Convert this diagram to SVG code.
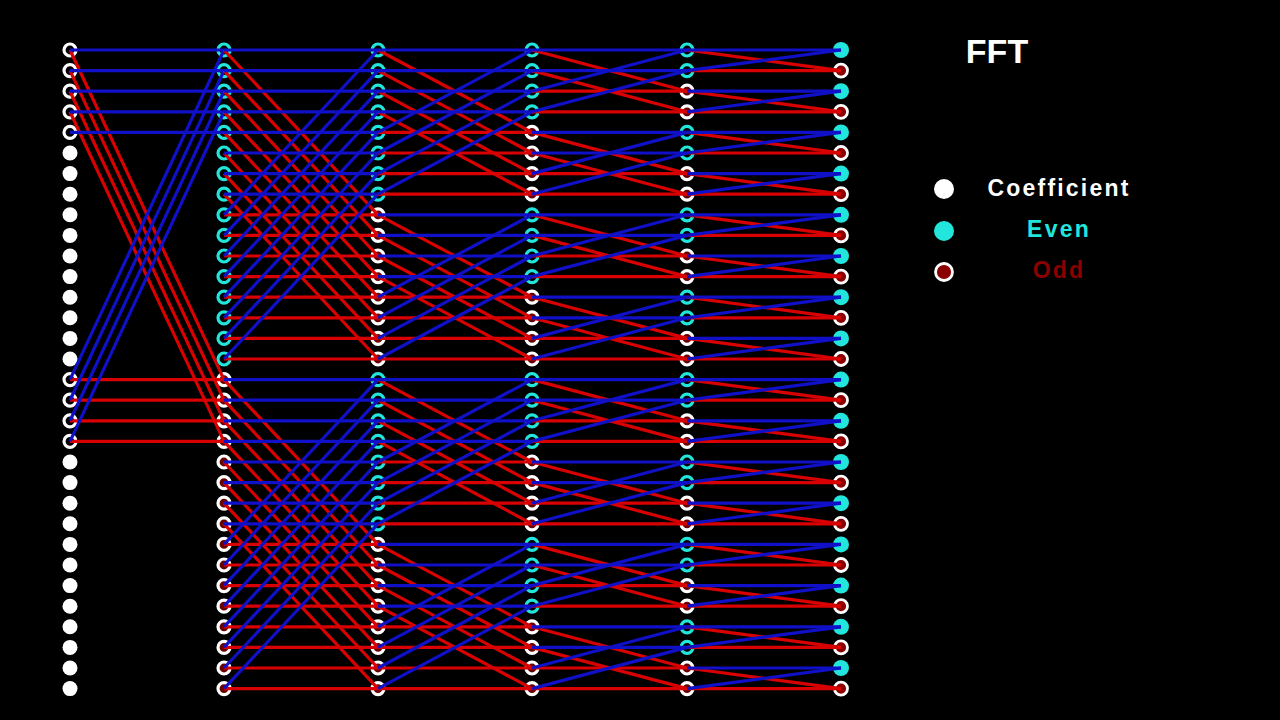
<svg xmlns="http://www.w3.org/2000/svg" width="1280" height="720" viewBox="0 0 1280 720">
<style>
.c{fill:#fff}
.ca{fill:#000;stroke:#fff;stroke-width:3.2}
.e{fill:#000;stroke:#22e6dc;stroke-width:3.2}
.o{fill:#6a0000;stroke:#fff;stroke-width:3.2}
.ef{fill:#22e6dc}
.of{fill:#8b0000;stroke:#fff;stroke-width:2.8}
.b{stroke:#1010c8;stroke-width:3.2;fill:none}
.r{stroke:#d80000;stroke-width:3.2;fill:none}
.t{font-family:"Liberation Sans",Arial,sans-serif;font-weight:bold}
</style>
<rect width="1280" height="720" fill="#000"/>
<g id="nodes">
<g id="n0-0"><circle class="ca" cx="70" cy="50" r="6"/></g>
<g id="n0-1"><circle class="ca" cx="70" cy="70.6" r="6"/></g>
<g id="n0-2"><circle class="ca" cx="70" cy="91.2" r="6"/></g>
<g id="n0-3"><circle class="ca" cx="70" cy="111.8" r="6"/></g>
<g id="n0-4"><circle class="ca" cx="70" cy="132.4" r="6"/></g>
<g id="n0-5"><circle class="c" cx="70" cy="153" r="7.5"/></g>
<g id="n0-6"><circle class="c" cx="70" cy="173.6" r="7.5"/></g>
<g id="n0-7"><circle class="c" cx="70" cy="194.2" r="7.5"/></g>
<g id="n0-8"><circle class="c" cx="70" cy="214.8" r="7.5"/></g>
<g id="n0-9"><circle class="c" cx="70" cy="235.4" r="7.5"/></g>
<g id="n0-10"><circle class="c" cx="70" cy="256" r="7.5"/></g>
<g id="n0-11"><circle class="c" cx="70" cy="276.6" r="7.5"/></g>
<g id="n0-12"><circle class="c" cx="70" cy="297.2" r="7.5"/></g>
<g id="n0-13"><circle class="c" cx="70" cy="317.8" r="7.5"/></g>
<g id="n0-14"><circle class="c" cx="70" cy="338.4" r="7.5"/></g>
<g id="n0-15"><circle class="c" cx="70" cy="359" r="7.5"/></g>
<g id="n0-16"><circle class="ca" cx="70" cy="379.6" r="6"/></g>
<g id="n0-17"><circle class="ca" cx="70" cy="400.2" r="6"/></g>
<g id="n0-18"><circle class="ca" cx="70" cy="420.8" r="6"/></g>
<g id="n0-19"><circle class="ca" cx="70" cy="441.4" r="6"/></g>
<g id="n0-20"><circle class="c" cx="70" cy="462" r="7.5"/></g>
<g id="n0-21"><circle class="c" cx="70" cy="482.6" r="7.5"/></g>
<g id="n0-22"><circle class="c" cx="70" cy="503.2" r="7.5"/></g>
<g id="n0-23"><circle class="c" cx="70" cy="523.8" r="7.5"/></g>
<g id="n0-24"><circle class="c" cx="70" cy="544.4" r="7.5"/></g>
<g id="n0-25"><circle class="c" cx="70" cy="565" r="7.5"/></g>
<g id="n0-26"><circle class="c" cx="70" cy="585.6" r="7.5"/></g>
<g id="n0-27"><circle class="c" cx="70" cy="606.2" r="7.5"/></g>
<g id="n0-28"><circle class="c" cx="70" cy="626.8" r="7.5"/></g>
<g id="n0-29"><circle class="c" cx="70" cy="647.4" r="7.5"/></g>
<g id="n0-30"><circle class="c" cx="70" cy="668" r="7.5"/></g>
<g id="n0-31"><circle class="c" cx="70" cy="688.6" r="7.5"/></g>

<g id="n1-0"><circle class="e" cx="224" cy="50" r="6"/></g>
<g id="n1-1"><circle class="e" cx="224" cy="70.6" r="6"/></g>
<g id="n1-2"><circle class="e" cx="224" cy="91.2" r="6"/></g>
<g id="n1-3"><circle class="e" cx="224" cy="111.8" r="6"/></g>
<g id="n1-4"><circle class="e" cx="224" cy="132.4" r="6"/></g>
<g id="n1-5"><circle class="e" cx="224" cy="153" r="6"/></g>
<g id="n1-6"><circle class="e" cx="224" cy="173.6" r="6"/></g>
<g id="n1-7"><circle class="e" cx="224" cy="194.2" r="6"/></g>
<g id="n1-8"><circle class="e" cx="224" cy="214.8" r="6"/></g>
<g id="n1-9"><circle class="e" cx="224" cy="235.4" r="6"/></g>
<g id="n1-10"><circle class="e" cx="224" cy="256" r="6"/></g>
<g id="n1-11"><circle class="e" cx="224" cy="276.6" r="6"/></g>
<g id="n1-12"><circle class="e" cx="224" cy="297.2" r="6"/></g>
<g id="n1-13"><circle class="e" cx="224" cy="317.8" r="6"/></g>
<g id="n1-14"><circle class="e" cx="224" cy="338.4" r="6"/></g>
<g id="n1-15"><circle class="e" cx="224" cy="359" r="6"/></g>
<g id="n1-16"><circle class="o" cx="224" cy="379.6" r="6"/></g>
<g id="n1-17"><circle class="o" cx="224" cy="400.2" r="6"/></g>
<g id="n1-18"><circle class="o" cx="224" cy="420.8" r="6"/></g>
<g id="n1-19"><circle class="o" cx="224" cy="441.4" r="6"/></g>
<g id="n1-20"><circle class="o" cx="224" cy="462" r="6"/></g>
<g id="n1-21"><circle class="o" cx="224" cy="482.6" r="6"/></g>
<g id="n1-22"><circle class="o" cx="224" cy="503.2" r="6"/></g>
<g id="n1-23"><circle class="o" cx="224" cy="523.8" r="6"/></g>
<g id="n1-24"><circle class="o" cx="224" cy="544.4" r="6"/></g>
<g id="n1-25"><circle class="o" cx="224" cy="565" r="6"/></g>
<g id="n1-26"><circle class="o" cx="224" cy="585.6" r="6"/></g>
<g id="n1-27"><circle class="o" cx="224" cy="606.2" r="6"/></g>
<g id="n1-28"><circle class="o" cx="224" cy="626.8" r="6"/></g>
<g id="n1-29"><circle class="o" cx="224" cy="647.4" r="6"/></g>
<g id="n1-30"><circle class="o" cx="224" cy="668" r="6"/></g>
<g id="n1-31"><circle class="o" cx="224" cy="688.6" r="6"/></g>

<g id="n2-0"><circle class="e" cx="378" cy="50" r="6"/></g>
<g id="n2-1"><circle class="e" cx="378" cy="70.6" r="6"/></g>
<g id="n2-2"><circle class="e" cx="378" cy="91.2" r="6"/></g>
<g id="n2-3"><circle class="e" cx="378" cy="111.8" r="6"/></g>
<g id="n2-4"><circle class="e" cx="378" cy="132.4" r="6"/></g>
<g id="n2-5"><circle class="e" cx="378" cy="153" r="6"/></g>
<g id="n2-6"><circle class="e" cx="378" cy="173.6" r="6"/></g>
<g id="n2-7"><circle class="e" cx="378" cy="194.2" r="6"/></g>
<g id="n2-8"><circle class="o" cx="378" cy="214.8" r="6"/></g>
<g id="n2-9"><circle class="o" cx="378" cy="235.4" r="6"/></g>
<g id="n2-10"><circle class="o" cx="378" cy="256" r="6"/></g>
<g id="n2-11"><circle class="o" cx="378" cy="276.6" r="6"/></g>
<g id="n2-12"><circle class="o" cx="378" cy="297.2" r="6"/></g>
<g id="n2-13"><circle class="o" cx="378" cy="317.8" r="6"/></g>
<g id="n2-14"><circle class="o" cx="378" cy="338.4" r="6"/></g>
<g id="n2-15"><circle class="o" cx="378" cy="359" r="6"/></g>
<g id="n2-16"><circle class="e" cx="378" cy="379.6" r="6"/></g>
<g id="n2-17"><circle class="e" cx="378" cy="400.2" r="6"/></g>
<g id="n2-18"><circle class="e" cx="378" cy="420.8" r="6"/></g>
<g id="n2-19"><circle class="e" cx="378" cy="441.4" r="6"/></g>
<g id="n2-20"><circle class="e" cx="378" cy="462" r="6"/></g>
<g id="n2-21"><circle class="e" cx="378" cy="482.6" r="6"/></g>
<g id="n2-22"><circle class="e" cx="378" cy="503.2" r="6"/></g>
<g id="n2-23"><circle class="e" cx="378" cy="523.8" r="6"/></g>
<g id="n2-24"><circle class="o" cx="378" cy="544.4" r="6"/></g>
<g id="n2-25"><circle class="o" cx="378" cy="565" r="6"/></g>
<g id="n2-26"><circle class="o" cx="378" cy="585.6" r="6"/></g>
<g id="n2-27"><circle class="o" cx="378" cy="606.2" r="6"/></g>
<g id="n2-28"><circle class="o" cx="378" cy="626.8" r="6"/></g>
<g id="n2-29"><circle class="o" cx="378" cy="647.4" r="6"/></g>
<g id="n2-30"><circle class="o" cx="378" cy="668" r="6"/></g>
<g id="n2-31"><circle class="o" cx="378" cy="688.6" r="6"/></g>

<g id="n3-0"><circle class="e" cx="532" cy="50" r="6"/></g>
<g id="n3-1"><circle class="e" cx="532" cy="70.6" r="6"/></g>
<g id="n3-2"><circle class="e" cx="532" cy="91.2" r="6"/></g>
<g id="n3-3"><circle class="e" cx="532" cy="111.8" r="6"/></g>
<g id="n3-4"><circle class="o" cx="532" cy="132.4" r="6"/></g>
<g id="n3-5"><circle class="o" cx="532" cy="153" r="6"/></g>
<g id="n3-6"><circle class="o" cx="532" cy="173.6" r="6"/></g>
<g id="n3-7"><circle class="o" cx="532" cy="194.2" r="6"/></g>
<g id="n3-8"><circle class="e" cx="532" cy="214.8" r="6"/></g>
<g id="n3-9"><circle class="e" cx="532" cy="235.4" r="6"/></g>
<g id="n3-10"><circle class="e" cx="532" cy="256" r="6"/></g>
<g id="n3-11"><circle class="e" cx="532" cy="276.6" r="6"/></g>
<g id="n3-12"><circle class="o" cx="532" cy="297.2" r="6"/></g>
<g id="n3-13"><circle class="o" cx="532" cy="317.8" r="6"/></g>
<g id="n3-14"><circle class="o" cx="532" cy="338.4" r="6"/></g>
<g id="n3-15"><circle class="o" cx="532" cy="359" r="6"/></g>
<g id="n3-16"><circle class="e" cx="532" cy="379.6" r="6"/></g>
<g id="n3-17"><circle class="e" cx="532" cy="400.2" r="6"/></g>
<g id="n3-18"><circle class="e" cx="532" cy="420.8" r="6"/></g>
<g id="n3-19"><circle class="e" cx="532" cy="441.4" r="6"/></g>
<g id="n3-20"><circle class="o" cx="532" cy="462" r="6"/></g>
<g id="n3-21"><circle class="o" cx="532" cy="482.6" r="6"/></g>
<g id="n3-22"><circle class="o" cx="532" cy="503.2" r="6"/></g>
<g id="n3-23"><circle class="o" cx="532" cy="523.8" r="6"/></g>
<g id="n3-24"><circle class="e" cx="532" cy="544.4" r="6"/></g>
<g id="n3-25"><circle class="e" cx="532" cy="565" r="6"/></g>
<g id="n3-26"><circle class="e" cx="532" cy="585.6" r="6"/></g>
<g id="n3-27"><circle class="e" cx="532" cy="606.2" r="6"/></g>
<g id="n3-28"><circle class="o" cx="532" cy="626.8" r="6"/></g>
<g id="n3-29"><circle class="o" cx="532" cy="647.4" r="6"/></g>
<g id="n3-30"><circle class="o" cx="532" cy="668" r="6"/></g>
<g id="n3-31"><circle class="o" cx="532" cy="688.6" r="6"/></g>

<g id="n4-0"><circle class="e" cx="687" cy="50" r="6"/></g>
<g id="n4-1"><circle class="e" cx="687" cy="70.6" r="6"/></g>
<g id="n4-2"><circle class="o" cx="687" cy="91.2" r="6"/></g>
<g id="n4-3"><circle class="o" cx="687" cy="111.8" r="6"/></g>
<g id="n4-4"><circle class="e" cx="687" cy="132.4" r="6"/></g>
<g id="n4-5"><circle class="e" cx="687" cy="153" r="6"/></g>
<g id="n4-6"><circle class="o" cx="687" cy="173.6" r="6"/></g>
<g id="n4-7"><circle class="o" cx="687" cy="194.2" r="6"/></g>
<g id="n4-8"><circle class="e" cx="687" cy="214.8" r="6"/></g>
<g id="n4-9"><circle class="e" cx="687" cy="235.4" r="6"/></g>
<g id="n4-10"><circle class="o" cx="687" cy="256" r="6"/></g>
<g id="n4-11"><circle class="o" cx="687" cy="276.6" r="6"/></g>
<g id="n4-12"><circle class="e" cx="687" cy="297.2" r="6"/></g>
<g id="n4-13"><circle class="e" cx="687" cy="317.8" r="6"/></g>
<g id="n4-14"><circle class="o" cx="687" cy="338.4" r="6"/></g>
<g id="n4-15"><circle class="o" cx="687" cy="359" r="6"/></g>
<g id="n4-16"><circle class="e" cx="687" cy="379.6" r="6"/></g>
<g id="n4-17"><circle class="e" cx="687" cy="400.2" r="6"/></g>
<g id="n4-18"><circle class="o" cx="687" cy="420.8" r="6"/></g>
<g id="n4-19"><circle class="o" cx="687" cy="441.4" r="6"/></g>
<g id="n4-20"><circle class="e" cx="687" cy="462" r="6"/></g>
<g id="n4-21"><circle class="e" cx="687" cy="482.6" r="6"/></g>
<g id="n4-22"><circle class="o" cx="687" cy="503.2" r="6"/></g>
<g id="n4-23"><circle class="o" cx="687" cy="523.8" r="6"/></g>
<g id="n4-24"><circle class="e" cx="687" cy="544.4" r="6"/></g>
<g id="n4-25"><circle class="e" cx="687" cy="565" r="6"/></g>
<g id="n4-26"><circle class="o" cx="687" cy="585.6" r="6"/></g>
<g id="n4-27"><circle class="o" cx="687" cy="606.2" r="6"/></g>
<g id="n4-28"><circle class="e" cx="687" cy="626.8" r="6"/></g>
<g id="n4-29"><circle class="e" cx="687" cy="647.4" r="6"/></g>
<g id="n4-30"><circle class="o" cx="687" cy="668" r="6"/></g>
<g id="n4-31"><circle class="o" cx="687" cy="688.6" r="6"/></g>

<g id="n5-0"><circle class="ef" cx="841" cy="50" r="8"/></g>
<g id="n5-1"><circle class="of" cx="841" cy="70.6" r="6.5"/></g>
<g id="n5-2"><circle class="ef" cx="841" cy="91.2" r="8"/></g>
<g id="n5-3"><circle class="of" cx="841" cy="111.8" r="6.5"/></g>
<g id="n5-4"><circle class="ef" cx="841" cy="132.4" r="8"/></g>
<g id="n5-5"><circle class="of" cx="841" cy="153" r="6.5"/></g>
<g id="n5-6"><circle class="ef" cx="841" cy="173.6" r="8"/></g>
<g id="n5-7"><circle class="of" cx="841" cy="194.2" r="6.5"/></g>
<g id="n5-8"><circle class="ef" cx="841" cy="214.8" r="8"/></g>
<g id="n5-9"><circle class="of" cx="841" cy="235.4" r="6.5"/></g>
<g id="n5-10"><circle class="ef" cx="841" cy="256" r="8"/></g>
<g id="n5-11"><circle class="of" cx="841" cy="276.6" r="6.5"/></g>
<g id="n5-12"><circle class="ef" cx="841" cy="297.2" r="8"/></g>
<g id="n5-13"><circle class="of" cx="841" cy="317.8" r="6.5"/></g>
<g id="n5-14"><circle class="ef" cx="841" cy="338.4" r="8"/></g>
<g id="n5-15"><circle class="of" cx="841" cy="359" r="6.5"/></g>
<g id="n5-16"><circle class="ef" cx="841" cy="379.6" r="8"/></g>
<g id="n5-17"><circle class="of" cx="841" cy="400.2" r="6.5"/></g>
<g id="n5-18"><circle class="ef" cx="841" cy="420.8" r="8"/></g>
<g id="n5-19"><circle class="of" cx="841" cy="441.4" r="6.5"/></g>
<g id="n5-20"><circle class="ef" cx="841" cy="462" r="8"/></g>
<g id="n5-21"><circle class="of" cx="841" cy="482.6" r="6.5"/></g>
<g id="n5-22"><circle class="ef" cx="841" cy="503.2" r="8"/></g>
<g id="n5-23"><circle class="of" cx="841" cy="523.8" r="6.5"/></g>
<g id="n5-24"><circle class="ef" cx="841" cy="544.4" r="8"/></g>
<g id="n5-25"><circle class="of" cx="841" cy="565" r="6.5"/></g>
<g id="n5-26"><circle class="ef" cx="841" cy="585.6" r="8"/></g>
<g id="n5-27"><circle class="of" cx="841" cy="606.2" r="6.5"/></g>
<g id="n5-28"><circle class="ef" cx="841" cy="626.8" r="8"/></g>
<g id="n5-29"><circle class="of" cx="841" cy="647.4" r="6.5"/></g>
<g id="n5-30"><circle class="ef" cx="841" cy="668" r="8"/></g>
<g id="n5-31"><circle class="of" cx="841" cy="688.6" r="6.5"/></g>
</g>

<g id="connectors">
<g id="stage1">
<path class="r" d="M70 379.6H224"/><path class="r" d="M70 400.2H224"/><path class="r" d="M70 420.8H224"/><path class="r" d="M70 441.4H224"/>
<path class="r" d="M70 50l154 329.6"/><path class="r" d="M70 70.6l154 329.6"/><path class="r" d="M70 91.2l154 329.6"/><path class="r" d="M70 111.8l154 329.6"/>
<path class="b" d="M70 50H224"/><path class="b" d="M70 70.6H224"/><path class="b" d="M70 91.2H224"/><path class="b" d="M70 111.8H224"/><path class="b" d="M70 132.4H224"/>
<path class="b" d="M70 379.6l154 -329.6"/><path class="b" d="M70 400.2l154 -329.6"/><path class="b" d="M70 420.8l154 -329.6"/><path class="b" d="M70 441.4l154 -329.6"/>
</g>
<g id="stage2">
<path class="r" d="M224 214.8H378"/><path class="r" d="M224 235.4H378"/><path class="r" d="M224 256H378"/><path class="r" d="M224 276.6H378"/><path class="r" d="M224 297.2H378"/><path class="r" d="M224 317.8H378"/><path class="r" d="M224 338.4H378"/><path class="r" d="M224 359H378"/>
<path class="r" d="M224 544.4H378"/><path class="r" d="M224 565H378"/><path class="r" d="M224 585.6H378"/><path class="r" d="M224 606.2H378"/><path class="r" d="M224 626.8H378"/><path class="r" d="M224 647.4H378"/><path class="r" d="M224 668H378"/><path class="r" d="M224 688.6H378"/>
<path class="r" d="M224 50l154 164.8"/><path class="r" d="M224 70.6l154 164.8"/><path class="r" d="M224 91.2l154 164.8"/><path class="r" d="M224 111.8l154 164.8"/><path class="r" d="M224 132.4l154 164.8"/><path class="r" d="M224 153l154 164.8"/><path class="r" d="M224 173.6l154 164.8"/><path class="r" d="M224 194.2l154 164.8"/>
<path class="r" d="M224 379.6l154 164.8"/><path class="r" d="M224 400.2l154 164.8"/><path class="r" d="M224 420.8l154 164.8"/><path class="r" d="M224 441.4l154 164.8"/><path class="r" d="M224 462l154 164.8"/><path class="r" d="M224 482.6l154 164.8"/><path class="r" d="M224 503.2l154 164.8"/><path class="r" d="M224 523.8l154 164.8"/>
<path class="b" d="M224 50H378"/><path class="b" d="M224 70.6H378"/><path class="b" d="M224 91.2H378"/><path class="b" d="M224 111.8H378"/><path class="b" d="M224 132.4H378"/><path class="b" d="M224 153H378"/><path class="b" d="M224 173.6H378"/><path class="b" d="M224 194.2H378"/>
<path class="b" d="M224 379.6H378"/><path class="b" d="M224 400.2H378"/><path class="b" d="M224 420.8H378"/><path class="b" d="M224 441.4H378"/><path class="b" d="M224 462H378"/><path class="b" d="M224 482.6H378"/><path class="b" d="M224 503.2H378"/><path class="b" d="M224 523.8H378"/>
<path class="b" d="M224 214.8l154 -164.8"/><path class="b" d="M224 235.4l154 -164.8"/><path class="b" d="M224 256l154 -164.8"/><path class="b" d="M224 276.6l154 -164.8"/><path class="b" d="M224 297.2l154 -164.8"/><path class="b" d="M224 317.8l154 -164.8"/><path class="b" d="M224 338.4l154 -164.8"/><path class="b" d="M224 359l154 -164.8"/>
<path class="b" d="M224 544.4l154 -164.8"/><path class="b" d="M224 565l154 -164.8"/><path class="b" d="M224 585.6l154 -164.8"/><path class="b" d="M224 606.2l154 -164.8"/><path class="b" d="M224 626.8l154 -164.8"/><path class="b" d="M224 647.4l154 -164.8"/><path class="b" d="M224 668l154 -164.8"/><path class="b" d="M224 688.6l154 -164.8"/>
</g>
<g id="stage3">
<path class="r" d="M378 132.4H532"/><path class="r" d="M378 153H532"/><path class="r" d="M378 173.6H532"/><path class="r" d="M378 194.2H532"/>
<path class="r" d="M378 297.2H532"/><path class="r" d="M378 317.8H532"/><path class="r" d="M378 338.4H532"/><path class="r" d="M378 359H532"/>
<path class="r" d="M378 462H532"/><path class="r" d="M378 482.6H532"/><path class="r" d="M378 503.2H532"/><path class="r" d="M378 523.8H532"/>
<path class="r" d="M378 626.8H532"/><path class="r" d="M378 647.4H532"/><path class="r" d="M378 668H532"/><path class="r" d="M378 688.6H532"/>
<path class="r" d="M378 50l154 82.4"/><path class="r" d="M378 70.6l154 82.4"/><path class="r" d="M378 91.2l154 82.4"/><path class="r" d="M378 111.8l154 82.4"/>
<path class="r" d="M378 214.8l154 82.4"/><path class="r" d="M378 235.4l154 82.4"/><path class="r" d="M378 256l154 82.4"/><path class="r" d="M378 276.6l154 82.4"/>
<path class="r" d="M378 379.6l154 82.4"/><path class="r" d="M378 400.2l154 82.4"/><path class="r" d="M378 420.8l154 82.4"/><path class="r" d="M378 441.4l154 82.4"/>
<path class="r" d="M378 544.4l154 82.4"/><path class="r" d="M378 565l154 82.4"/><path class="r" d="M378 585.6l154 82.4"/><path class="r" d="M378 606.2l154 82.4"/>
<path class="b" d="M378 50H532"/><path class="b" d="M378 70.6H532"/><path class="b" d="M378 91.2H532"/><path class="b" d="M378 111.8H532"/>
<path class="b" d="M378 214.8H532"/><path class="b" d="M378 235.4H532"/><path class="b" d="M378 256H532"/><path class="b" d="M378 276.6H532"/>
<path class="b" d="M378 379.6H532"/><path class="b" d="M378 400.2H532"/><path class="b" d="M378 420.8H532"/><path class="b" d="M378 441.4H532"/>
<path class="b" d="M378 544.4H532"/><path class="b" d="M378 565H532"/><path class="b" d="M378 585.6H532"/><path class="b" d="M378 606.2H532"/>
<path class="b" d="M378 132.4l154 -82.4"/><path class="b" d="M378 153l154 -82.4"/><path class="b" d="M378 173.6l154 -82.4"/><path class="b" d="M378 194.2l154 -82.4"/>
<path class="b" d="M378 297.2l154 -82.4"/><path class="b" d="M378 317.8l154 -82.4"/><path class="b" d="M378 338.4l154 -82.4"/><path class="b" d="M378 359l154 -82.4"/>
<path class="b" d="M378 462l154 -82.4"/><path class="b" d="M378 482.6l154 -82.4"/><path class="b" d="M378 503.2l154 -82.4"/><path class="b" d="M378 523.8l154 -82.4"/>
<path class="b" d="M378 626.8l154 -82.4"/><path class="b" d="M378 647.4l154 -82.4"/><path class="b" d="M378 668l154 -82.4"/><path class="b" d="M378 688.6l154 -82.4"/>
</g>
<g id="stage4">
<path class="r" d="M532 91.2H687"/><path class="r" d="M532 111.8H687"/><path class="r" d="M532 173.6H687"/><path class="r" d="M532 194.2H687"/>
<path class="r" d="M532 256H687"/><path class="r" d="M532 276.6H687"/><path class="r" d="M532 338.4H687"/><path class="r" d="M532 359H687"/>
<path class="r" d="M532 420.8H687"/><path class="r" d="M532 441.4H687"/><path class="r" d="M532 503.2H687"/><path class="r" d="M532 523.8H687"/>
<path class="r" d="M532 585.6H687"/><path class="r" d="M532 606.2H687"/><path class="r" d="M532 668H687"/><path class="r" d="M532 688.6H687"/>
<path class="r" d="M532 50l155 41.2"/><path class="r" d="M532 70.6l155 41.2"/><path class="r" d="M532 132.4l155 41.2"/><path class="r" d="M532 153l155 41.2"/>
<path class="r" d="M532 214.8l155 41.2"/><path class="r" d="M532 235.4l155 41.2"/><path class="r" d="M532 297.2l155 41.2"/><path class="r" d="M532 317.8l155 41.2"/>
<path class="r" d="M532 379.6l155 41.2"/><path class="r" d="M532 400.2l155 41.2"/><path class="r" d="M532 462l155 41.2"/><path class="r" d="M532 482.6l155 41.2"/>
<path class="r" d="M532 544.4l155 41.2"/><path class="r" d="M532 565l155 41.2"/><path class="r" d="M532 626.8l155 41.2"/><path class="r" d="M532 647.4l155 41.2"/>
<path class="b" d="M532 50H687"/><path class="b" d="M532 70.6H687"/><path class="b" d="M532 132.4H687"/><path class="b" d="M532 153H687"/>
<path class="b" d="M532 214.8H687"/><path class="b" d="M532 235.4H687"/><path class="b" d="M532 297.2H687"/><path class="b" d="M532 317.8H687"/>
<path class="b" d="M532 379.6H687"/><path class="b" d="M532 400.2H687"/><path class="b" d="M532 462H687"/><path class="b" d="M532 482.6H687"/>
<path class="b" d="M532 544.4H687"/><path class="b" d="M532 565H687"/><path class="b" d="M532 626.8H687"/><path class="b" d="M532 647.4H687"/>
<path class="b" d="M532 91.2l155 -41.2"/><path class="b" d="M532 111.8l155 -41.2"/><path class="b" d="M532 173.6l155 -41.2"/><path class="b" d="M532 194.2l155 -41.2"/>
<path class="b" d="M532 256l155 -41.2"/><path class="b" d="M532 276.6l155 -41.2"/><path class="b" d="M532 338.4l155 -41.2"/><path class="b" d="M532 359l155 -41.2"/>
<path class="b" d="M532 420.8l155 -41.2"/><path class="b" d="M532 441.4l155 -41.2"/><path class="b" d="M532 503.2l155 -41.2"/><path class="b" d="M532 523.8l155 -41.2"/>
<path class="b" d="M532 585.6l155 -41.2"/><path class="b" d="M532 606.2l155 -41.2"/><path class="b" d="M532 668l155 -41.2"/><path class="b" d="M532 688.6l155 -41.2"/>
</g>
<g id="stage5">
<path class="r" d="M687 70.6H841"/><path class="r" d="M687 111.8H841"/><path class="r" d="M687 153H841"/><path class="r" d="M687 194.2H841"/>
<path class="r" d="M687 235.4H841"/><path class="r" d="M687 276.6H841"/><path class="r" d="M687 317.8H841"/><path class="r" d="M687 359H841"/>
<path class="r" d="M687 400.2H841"/><path class="r" d="M687 441.4H841"/><path class="r" d="M687 482.6H841"/><path class="r" d="M687 523.8H841"/>
<path class="r" d="M687 565H841"/><path class="r" d="M687 606.2H841"/><path class="r" d="M687 647.4H841"/><path class="r" d="M687 688.6H841"/>
<path class="r" d="M687 50l154 20.6"/><path class="r" d="M687 91.2l154 20.6"/><path class="r" d="M687 132.4l154 20.6"/><path class="r" d="M687 173.6l154 20.6"/>
<path class="r" d="M687 214.8l154 20.6"/><path class="r" d="M687 256l154 20.6"/><path class="r" d="M687 297.2l154 20.6"/><path class="r" d="M687 338.4l154 20.6"/>
<path class="r" d="M687 379.6l154 20.6"/><path class="r" d="M687 420.8l154 20.6"/><path class="r" d="M687 462l154 20.6"/><path class="r" d="M687 503.2l154 20.6"/>
<path class="r" d="M687 544.4l154 20.6"/><path class="r" d="M687 585.6l154 20.6"/><path class="r" d="M687 626.8l154 20.6"/><path class="r" d="M687 668l154 20.6"/>
<path class="b" d="M687 50H841"/><path class="b" d="M687 91.2H841"/><path class="b" d="M687 132.4H841"/><path class="b" d="M687 173.6H841"/>
<path class="b" d="M687 214.8H841"/><path class="b" d="M687 256H841"/><path class="b" d="M687 297.2H841"/><path class="b" d="M687 338.4H841"/>
<path class="b" d="M687 379.6H841"/><path class="b" d="M687 420.8H841"/><path class="b" d="M687 462H841"/><path class="b" d="M687 503.2H841"/>
<path class="b" d="M687 544.4H841"/><path class="b" d="M687 585.6H841"/><path class="b" d="M687 626.8H841"/><path class="b" d="M687 668H841"/>
<path class="b" d="M687 70.6l154 -20.6"/><path class="b" d="M687 111.8l154 -20.6"/><path class="b" d="M687 153l154 -20.6"/><path class="b" d="M687 194.2l154 -20.6"/>
<path class="b" d="M687 235.4l154 -20.6"/><path class="b" d="M687 276.6l154 -20.6"/><path class="b" d="M687 317.8l154 -20.6"/><path class="b" d="M687 359l154 -20.6"/>
<path class="b" d="M687 400.2l154 -20.6"/><path class="b" d="M687 441.4l154 -20.6"/><path class="b" d="M687 482.6l154 -20.6"/><path class="b" d="M687 523.8l154 -20.6"/>
<path class="b" d="M687 565l154 -20.6"/><path class="b" d="M687 606.2l154 -20.6"/><path class="b" d="M687 647.4l154 -20.6"/><path class="b" d="M687 688.6l154 -20.6"/>
</g>
</g>

<g id="title"><text class="t" x="997" y="63" font-size="34" fill="#fff" text-anchor="middle">FFT</text></g>
<g id="legend-coefficient"><circle class="c" cx="944" cy="189" r="10"/><text class="t" x="1059" y="196" font-size="23" letter-spacing="2.2" fill="#fff" text-anchor="middle">Coefficient</text></g>
<g id="legend-even"><circle class="ef" cx="944" cy="231" r="10"/><text class="t" x="1059" y="237" font-size="23" letter-spacing="2.2" fill="#22e6dc" text-anchor="middle">Even</text></g>
<g id="legend-odd"><circle class="of" cx="944" cy="272" r="8.5"/><text class="t" x="1059" y="278" font-size="23" letter-spacing="2.2" fill="#8b0000" text-anchor="middle">Odd</text></g>
</svg>
